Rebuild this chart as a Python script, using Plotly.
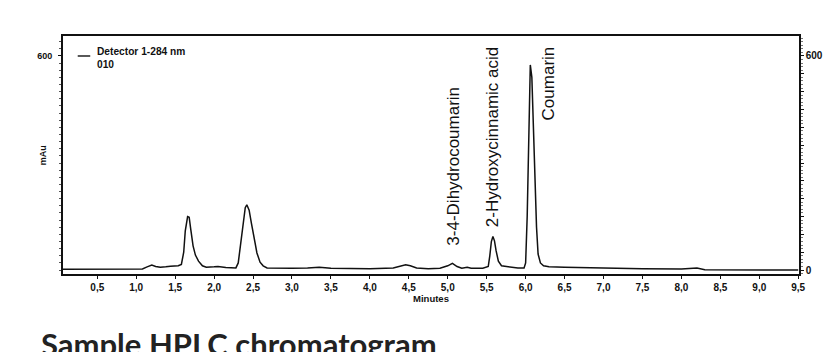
import plotly.graph_objects as go

# Retention time (min) and detector signal (mAu)
time_min = [0.06, 0.5, 1.0, 1.08, 1.14, 1.2, 1.25, 1.31, 1.38, 1.44, 1.54, 1.58,
            1.61, 1.63, 1.66, 1.68, 1.70, 1.73, 1.76, 1.80, 1.85, 1.9, 2.0, 2.05,
            2.15, 2.28, 2.31, 2.34, 2.37, 2.40, 2.42, 2.45, 2.48, 2.52, 2.55, 2.59,
            2.63, 2.68, 2.8, 3.0, 3.2, 3.35, 3.5, 3.8, 4.0, 4.3, 4.4, 4.46, 4.52,
            4.6, 4.75, 4.9, 5.0, 5.06, 5.12, 5.18, 5.25, 5.3, 5.45, 5.52, 5.54,
            5.56, 5.58, 5.60, 5.62, 5.65, 5.69, 5.75, 5.8, 5.9, 5.98, 6.00, 6.02,
            6.04, 6.06, 6.08, 6.10, 6.12, 6.14, 6.16, 6.19, 6.23, 6.3, 6.5, 6.7,
            7.0, 7.5, 8.0, 8.12, 8.2, 8.3, 9.0, 9.5]
signal_mau = [2, 2, 2, 3, 9, 14, 10, 8, 9, 11, 12, 16,
              50, 110, 150, 148, 115, 68, 42, 25, 12, 8, 9, 10,
              7, 6, 20, 70, 135, 175, 183, 168, 130, 80, 48, 22,
              12, 6, 5, 5, 6, 8, 5, 4, 4, 6, 12, 15, 12,
              6, 4, 5, 12, 19, 10, 5, 8, 5, 5, 10, 40,
              80, 94, 82, 55, 25, 12, 10, 8, 6, 6, 20, 150,
              400, 575, 540, 400, 250, 120, 45, 20, 12, 9, 8, 7,
              5, 4, 3, 5, 6, 1, 0, 0]

x_tick_vals = [0.5, 1.0, 1.5, 2.0, 2.5, 3.0, 3.5, 4.0, 4.5, 5.0, 5.5, 6.0, 6.5,
               7.0, 7.5, 8.0, 8.5, 9.0, 9.5]
x_tick_text = ["0,5", "1,0", "1,5", "2,0", "2,5", "3,0", "3,5", "4,0", "4,5",
               "5,0", "5,5", "6,0", "6,5", "7,0", "7,5", "8,0", "8,5", "9,0", "9,5"]

peak_names = ["3-4-Dihydrocoumarin", "2-Hydroxycinnamic acid", "Coumarin"]
peak_label_x = [5.07, 5.57, 6.29]
peak_label_y = [62, 115, 633]
peak_label_anchor = ["bottom", "bottom", "top"]

right_tick_vals = [0, 50, 100, 150, 200, 250, 300, 350, 400, 450, 500, 550, 600]
right_tick_text = ["0", "", "", "", "", "", "", "", "", "", "", "", "600"]

FONT = "Liberation Sans, Arial, sans-serif"
INK = "#111111"

fig = go.Figure()
fig.add_trace(go.Scatter(x=time_min, y=signal_mau, mode="lines",
                         line=dict(color=INK, width=1.5),
                         showlegend=False, hoverinfo="skip"))
# invisible trace to activate the right axis
fig.add_trace(go.Scatter(x=[time_min[0]], y=[signal_mau[0]], yaxis="y2",
                         mode="markers", marker=dict(opacity=0),
                         showlegend=False, hoverinfo="skip"))

for name, px, py, anc in zip(peak_names, peak_label_x, peak_label_y, peak_label_anchor):
    fig.add_annotation(x=px, y=py, xref="x", yref="y", text=name, textangle=-90,
                       showarrow=False, xanchor="center", yanchor=anc,
                       font=dict(family=FONT, size=17, color=INK))

# legend box
fig.add_shape(type="line", xref="paper", yref="paper", x0=0.02, x1=0.037,
              y0=0.916, y1=0.916, line=dict(color=INK, width=1.4))
fig.add_annotation(xref="paper", yref="paper", x=0.043, y=0.965,
                   xanchor="left", yanchor="top", align="left", showarrow=False,
                   text="<b>Detector 1-284 nm<br>010</b>",
                   font=dict(family=FONT, size=10.2, color=INK))

# y axis title
fig.add_annotation(xref="paper", yref="paper", x=-0.027, y=0.5,
                   xanchor="center", yanchor="middle", showarrow=False,
                   textangle=-90, text="<b>mAu</b>",
                   font=dict(family=FONT, size=9, color=INK))

fig.add_annotation(xref="paper", yref="paper", x=-0.0326, y=-0.206,
                   xanchor="left", yanchor="top", showarrow=False,
                   text="<b>Sample HPLC chromatogram</b>",
                   font=dict(family="Lato, Open Sans, sans-serif", size=31, color="#222222"))

fig.update_layout(
    width=836, height=352,
    margin=dict(l=55, r=45, t=28, b=86),
    paper_bgcolor="white", plot_bgcolor="white",
    font=dict(family=FONT, color=INK),
    xaxis=dict(range=[0.06, 9.51], tickmode="array", tickvals=x_tick_vals,
               ticktext=x_tick_text, ticks="outside", ticklen=3,
               tickcolor=INK, showline=True, linecolor=INK,
               linewidth=1.5, mirror=True, showgrid=False, zeroline=False,
               tickfont=dict(family=FONT, size=10, color=INK, weight="bold"),
               title=dict(text="<b>Minutes</b>", standoff=2,
                          font=dict(family=FONT, size=9.5, color=INK))),
    yaxis=dict(range=[-11, 656], tickmode="array", tickvals=[600],
               ticktext=["<b>600</b>"], ticks="outside", ticklen=3,
               tickcolor=INK, showline=True, linecolor=INK,
               linewidth=1.8, showgrid=False, zeroline=False,
               minor=dict(ticks="outside", ticklen=2, dtick=20, tick0=0,
                          tickcolor="#555555", showgrid=False),
               tickfont=dict(family=FONT, size=9, color=INK),
               ticklabelstandoff=4),
    yaxis2=dict(range=[-11, 656], overlaying="y", side="right",
                tickmode="array", tickvals=right_tick_vals, ticktext=right_tick_text,
                ticks="outside", ticklen=3, tickcolor=INK,
                showline=True, linecolor=INK, linewidth=1.5,
                showgrid=False, zeroline=False,
                minor=dict(ticks="outside", ticklen=2, dtick=10, tick0=0,
                           tickcolor="#777777", showgrid=False),
                tickfont=dict(family=FONT, size=10, color=INK, weight="bold")),
)

fig.write_html("out.html")
